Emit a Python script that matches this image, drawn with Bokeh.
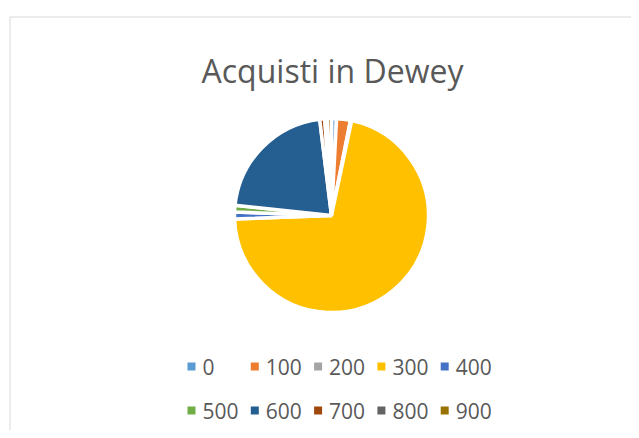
import numpy as np
from bokeh.plotting import figure
from bokeh.models import Range1d, ColumnDataSource
from bokeh.core.properties import value
from bokeh.embed import file_html
from bokeh.resources import INLINE

# ---- data ----
title = "Acquisti in Dewey"
categories = ["0", "100", "200", "300", "400", "500", "600", "700", "800", "900"]
values = [3, 8.3, 0.7, 256, 4, 4, 77, 3, 1.5, 2.5]
colors = ["#5B9BD5", "#ED7D31", "#A5A5A5", "#FFC000", "#4472C4",
          "#70AD47", "#255E91", "#9E480E", "#636363", "#997300"]

W, H = 631, 430
p = figure(width=W, height=H, output_backend="svg", toolbar_location=None,
           x_range=Range1d(0, W), y_range=Range1d(0, H),
           min_border=0, x_axis_location=None, y_axis_location=None)
p.grid.visible = False
p.outline_line_color = None
p.background_fill_color = "white"
p.border_fill_color = "white"

# chart border (decoration)
p.quad(left=[9.5], right=[W + 50], top=[H - 16.5], bottom=[-50],
       fill_alpha=0, line_color="#D9D9D9", line_width=1)

# pie: Excel style, start at 12 o'clock, clockwise
vals = np.array(values, dtype=float)
frac = vals / vals.sum() * 2 * np.pi
cum_end = np.cumsum(frac)
cum_start = cum_end - frac
start_angle = np.pi / 2 - cum_end
end_angle = np.pi / 2 - cum_start
cx, cy, r = 331, H - 215, 97
src = ColumnDataSource(dict(cat=categories, val=values, color=colors,
                            start=start_angle, end=end_angle))
p.wedge(x=cx, y=cy, radius=r, start_angle="start", end_angle="end",
        fill_color="color", line_color="white", line_width=3.5, source=src)

# title
p.text(x=[332], y=[H - 70], text=[title], text_font=value("Open Sans"),
       text_font_size="32px", text_color="#595959", text_align="center",
       text_baseline="alphabetic")

# legend (two rows of five)
idx = np.arange(len(categories))
col = idx % 5
row = idx // 5
mx = 191 + 63.3 * col
my = (H - 366) - 44 * row
lsrc = ColumnDataSource(dict(x=mx, y=my, lx=mx + 11, cat=categories, color=colors))
p.rect(x="x", y="y", width=8, height=8, fill_color="color", line_color=None, source=lsrc)
p.text(x="lx", y="y", text="cat", text_font=value("Open Sans"), text_font_size="21px",
       text_color="#595959", text_align="left", text_baseline="middle", source=lsrc)

open("out.html", "w").write(file_html(p, INLINE))
